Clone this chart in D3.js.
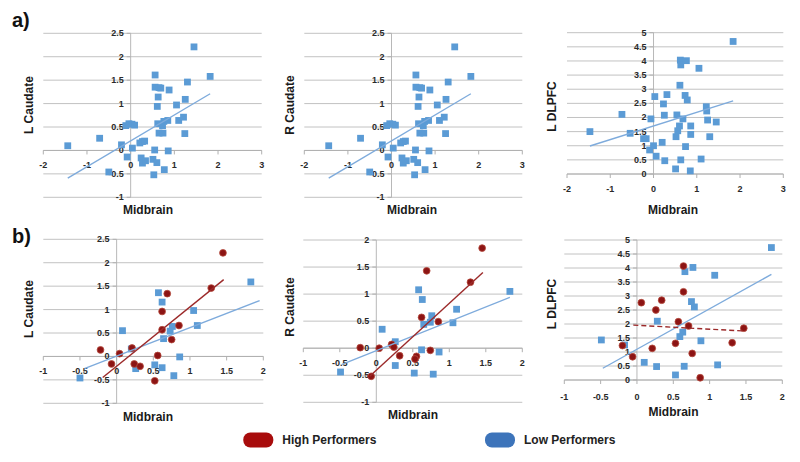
<!DOCTYPE html>
<html><head><meta charset="utf-8">
<script src="https://cdn.jsdelivr.net/npm/d3@7"></script>
<style>
body{margin:0;background:#fff;}
svg{display:block;font-family:"Liberation Sans",Arial,sans-serif;}
</style></head><body>
<svg id="c" width="800" height="462"></svg>
<script>
// ---------- DATA ----------
// Panel a (all subjects, low-performer colour)
const a1Points = [[-1.44,0.10],[-0.71,0.26],[-0.50,-0.46],[-0.21,0.12],[-0.08,-0.14],[-0.11,0.53],[-0.04,0.57],[0.03,0.56],[0.09,0.54],[0.04,0.05],[0.21,0.16],[0.27,0.19],[0.32,0.20],[0.24,-0.16],[0.27,-0.27],[0.34,-0.22],[0.51,-0.19],[0.55,0.01],[0.53,-0.52],[0.60,-0.26],[0.56,1.61],[0.56,1.35],[0.65,1.34],[0.69,1.33],[0.63,1.14],[0.61,0.94],[0.62,0.57],[0.65,0.37],[0.74,0.37],[0.73,0.53],[0.76,0.62],[0.85,0.64],[0.77,-0.41],[0.86,-0.01],[0.88,1.29],[1.05,0.97],[1.10,0.64],[1.21,0.71],[1.24,0.36],[1.25,1.09],[1.30,1.46],[1.45,2.21],[1.82,1.58]];
const a1Trend = [[-1.44,-0.59],[1.82,1.21]];
const a2Points = [[-1.44,0.10],[-0.71,0.26],[-0.50,-0.46],[-0.21,0.12],[-0.08,-0.14],[-0.11,0.53],[-0.04,0.57],[0.03,0.56],[0.09,0.54],[0.04,0.05],[0.21,0.16],[0.27,0.19],[0.32,0.20],[0.24,-0.16],[0.27,-0.27],[0.34,-0.22],[0.51,-0.19],[0.55,0.01],[0.53,-0.52],[0.60,-0.26],[0.56,1.61],[0.56,1.35],[0.65,1.34],[0.69,1.33],[0.63,1.14],[0.61,0.94],[0.62,0.57],[0.65,0.37],[0.74,0.37],[0.73,0.53],[0.76,0.62],[0.85,0.64],[0.77,-0.41],[0.86,-0.01],[0.88,1.29],[1.05,0.97],[1.10,0.64],[1.21,0.71],[1.24,0.36],[1.25,1.09],[1.30,1.46],[1.45,2.21],[1.82,1.58]];
const a2Trend = [[-1.44,-0.59],[1.82,1.21]];
const a3Points = [[-1.47,1.50],[-0.73,2.11],[-0.54,1.44],[-0.23,1.25],[-0.17,1.25],[-0.06,1.95],[-0.09,0.85],[0.00,1.00],[0.03,2.74],[0.06,0.63],[0.20,1.12],[0.23,2.48],[0.25,2.08],[0.26,0.47],[0.31,2.81],[0.51,0.18],[0.52,1.32],[0.54,2.09],[0.56,1.53],[0.60,1.70],[0.61,3.14],[0.62,4.03],[0.63,3.86],[0.63,0.50],[0.68,1.95],[0.73,2.78],[0.74,0.97],[0.76,4.01],[0.78,2.62],[0.85,0.11],[0.86,1.40],[0.86,1.70],[1.05,3.74],[1.10,0.53],[1.22,2.38],[1.23,2.23],[1.25,1.91],[1.30,1.32],[1.45,1.84],[1.84,4.69]];
const a3Trend = [[-1.47,0.99],[1.84,2.59]];
// Panel b (split by group)
const b1High = [[-0.22,0.14],[-0.07,-0.16],[0.04,0.06],[0.21,0.18],[0.24,-0.16],[0.32,-0.21],[0.56,0.02],[0.52,-0.52],[0.62,0.57],[0.62,0.96],[0.69,1.34],[0.75,0.36],[0.85,0.66],[1.29,1.46],[1.45,2.21]];
const b1Low = [[-0.50,-0.46],[0.08,0.55],[0.20,0.16],[0.26,-0.26],[0.52,-0.18],[0.62,-0.24],[0.57,1.36],[0.62,1.16],[0.64,0.38],[0.73,0.54],[0.76,0.64],[0.78,-0.41],[0.86,-0.01],[1.05,0.98],[1.10,0.66],[1.83,1.59]];
const b1HighTrend = [[-0.19,-0.45],[1.46,1.64]];
const b1LowTrend = [[-0.44,-0.26],[1.95,1.19]];
const b2High = [[-0.22,0.01],[-0.07,-0.52],[0.04,0.00],[0.21,0.07],[0.24,0.02],[0.32,-0.14],[0.55,-0.15],[0.53,-0.20],[0.62,0.57],[0.69,1.43],[0.74,-0.04],[0.85,0.49],[1.29,1.22],[1.45,1.85]];
const b2Low = [[-0.49,-0.44],[0.08,0.35],[0.26,0.12],[0.26,-0.32],[0.52,-0.46],[0.58,1.08],[0.63,0.90],[0.62,-0.03],[0.65,0.44],[0.74,0.48],[0.76,0.60],[0.78,-0.48],[0.86,-0.07],[1.05,0.47],[1.10,0.72],[1.83,1.05]];
const b2HighTrend = [[-0.09,-0.52],[1.46,1.40]];
const b2LowTrend = [[-0.47,-0.30],[1.83,0.94]];
const b3High = [[-0.20,1.23],[-0.06,0.83],[0.06,2.76],[0.26,2.50],[0.34,2.85],[0.21,1.13],[0.53,1.31],[0.57,2.08],[0.64,4.07],[0.64,3.15],[0.71,1.93],[0.76,0.95],[0.87,0.08],[1.31,1.33],[1.47,1.85]];
const b3Low = [[-0.49,1.43],[-0.17,1.25],[0.10,0.63],[0.27,0.48],[0.28,2.10],[0.53,0.18],[0.59,1.55],[0.63,1.71],[0.65,0.49],[0.66,3.87],[0.77,4.02],[0.75,2.80],[0.79,2.61],[0.88,1.40],[1.07,3.74],[1.11,0.54],[1.85,4.73]];
const b3HighTrend = [[-0.05,1.96],[1.47,1.75]];
const b3LowTrend = [[-0.47,0.42],[1.85,3.77]];

const xTicksA = [-2,-1,0,1,2,3];
const xTicksB = [-1,-0.5,0,0.5,1,1.5,2];
const yTicksCaudA = [-1,-0.5,0,0.5,1,1.5,2,2.5];
const yTicksCaudB2 = [-1,-0.5,0,0.5,1,1.5,2];
const yTicksDLPFC = [0,0.5,1,1.5,2,2.5,3,3.5,4,4.5,5];
const legendLabels = ["High Performers","Low Performers"];
const panelLetters = ["a)","b)"];

// ---------- STYLE ----------
const LOW = "#5b9bd5", HIGH = "#8c1414";
const LOW_LINE = "#7eabdc", HIGH_LINE = "#9c2a2a";
const svg = d3.select("#c");

function fmt(v){ return String(v); }

function panel(o){
  const x = d3.scaleLinear().domain(o.xd).range([o.l,o.r]);
  const y = d3.scaleLinear().domain(o.yd).range([o.b,o.t]);
  const g = svg.append("g");
  g.selectAll(".gl").data(o.yt).enter().append("line")
    .attr("x1",o.l).attr("x2",o.r)
    .attr("y1",d=>y(d)).attr("y2",d=>y(d))
    .attr("stroke","#c2c2c2").attr("stroke-width",1);
  g.append("line").attr("x1",x(0)).attr("x2",x(0)).attr("y1",o.t).attr("y2",o.b)
    .attr("stroke","#b8b8b8").attr("stroke-width",1);
  const y0 = y(Math.max(0,o.yd[0]));
  g.append("line").attr("x1",o.l).attr("x2",o.r).attr("y1",y0).attr("y2",y0)
    .attr("stroke","#b0b0b0").attr("stroke-width",1);
  g.selectAll(".xtk").data(o.xt).enter().append("line")
    .attr("x1",d=>x(d)).attr("x2",d=>x(d)).attr("y1",y0).attr("y2",y0+4)
    .attr("stroke","#b0b0b0");
  g.selectAll(".ytk").data(o.yt).enter().append("line")
    .attr("x1",x(0)-4).attr("x2",x(0)).attr("y1",d=>y(d)).attr("y2",d=>y(d))
    .attr("stroke","#b0b0b0");
  g.selectAll(".xl").data(o.xt).enter().append("text")
    .attr("x",d=>x(d)).attr("y",y0+o.xlo).attr("text-anchor","middle")
    .attr("dominant-baseline","central")
    .attr("font-size",9).attr("font-weight","bold").attr("fill","#2a2a2a")
    .text(fmt);
  g.selectAll(".yl").data(o.yt).enter().append("text")
    .attr("x",x(0)-7).attr("y",d=>y(d)).attr("text-anchor","end")
    .attr("dominant-baseline","central")
    .attr("font-size",9).attr("font-weight","bold").attr("fill","#2a2a2a")
    .text(fmt);
  g.append("text").attr("transform",`translate(${o.ytx},${o.yty}) rotate(-90)`)
    .attr("text-anchor","middle").attr("dominant-baseline","central")
    .attr("font-size",12).attr("font-weight","bold").attr("fill","#1a1a1a").text(o.ylabel);
  g.append("text").attr("x",o.xtx).attr("y",o.xty).attr("text-anchor","middle")
    .attr("dominant-baseline","central")
    .attr("font-size",12).attr("font-weight","bold").attr("fill","#1a1a1a").text("Midbrain");
  if(o.low){
    g.selectAll(".lp").data(o.low).enter().append("rect")
      .attr("x",d=>x(d[0])-3.4).attr("y",d=>y(d[1])-3.4)
      .attr("width",6.8).attr("height",6.8).attr("fill",LOW);
  }
  if(o.high){
    g.selectAll(".hp").data(o.high).enter().append("circle")
      .attr("cx",d=>x(d[0])).attr("cy",d=>y(d[1])).attr("r",3.4)
      .attr("fill",HIGH).attr("stroke","#b54a3c").attr("stroke-width",0.8);
  }
  const line = d3.line().x(d=>x(d[0])).y(d=>y(d[1]));
  if(o.lowTrend){
    g.append("path").attr("d",line(o.lowTrend)).attr("stroke",LOW_LINE)
      .attr("stroke-width",1.4).attr("fill","none");
  }
  if(o.highTrend){
    g.append("path").attr("d",line(o.highTrend)).attr("stroke",HIGH_LINE)
      .attr("stroke-width",1.4).attr("fill","none")
      .attr("stroke-dasharray",o.dash||null);
  }
}

panel({l:43.3,r:261.7,t:33.3,b:197.3,xd:[-2,3],yd:[-1,2.5],xt:xTicksA,yt:yTicksCaudA,xlo:15,
  ylabel:"L Caudate",ytx:29,yty:105,xtx:148,xty:210,low:a1Points,lowTrend:a1Trend});
panel({l:304.3,r:522.3,t:33.3,b:197.3,xd:[-2,3],yd:[-1,2.5],xt:xTicksA,yt:yTicksCaudA,xlo:15,
  ylabel:"R Caudate",ytx:290,yty:105,xtx:412,xty:210,low:a2Points,lowTrend:a2Trend});
panel({l:567,r:783.3,t:32.7,b:174,xd:[-2,3],yd:[0,5],xt:xTicksA,yt:yTicksDLPFC,xlo:15,
  ylabel:"L DLPFC",ytx:551.7,yty:106.5,xtx:673,xty:210,low:a3Points,lowTrend:a3Trend});
panel({l:43.3,r:263.3,t:239.3,b:403.3,xd:[-1,2],yd:[-1,2.5],xt:xTicksB,yt:yTicksCaudA,xlo:14.5,
  ylabel:"L Caudate",ytx:29,yty:309,xtx:148,xty:416.5,low:b1Low,high:b1High,lowTrend:b1LowTrend,highTrend:b1HighTrend});
panel({l:303.3,r:522.3,t:240,b:402.3,xd:[-1,2],yd:[-1,2],xt:xTicksB,yt:yTicksCaudB2,xlo:14.5,
  ylabel:"R Caudate",ytx:290,yty:307,xtx:413,xty:415,low:b2Low,high:b2High,lowTrend:b2LowTrend,highTrend:b2HighTrend});
panel({l:564.3,r:782.3,t:240,b:380,xd:[-1,2],yd:[0,5],xt:xTicksB,yt:yTicksDLPFC,xlo:17,
  ylabel:"L DLPFC",ytx:551.7,yty:304,xtx:673.5,xty:411.5,low:b3Low,high:b3High,lowTrend:b3LowTrend,highTrend:b3HighTrend,dash:"5,3"});

svg.append("text").attr("x",12).attr("y",27).attr("font-size",20).attr("font-weight","bold").attr("fill","#111").text(panelLetters[0]);
svg.append("text").attr("x",12).attr("y",243).attr("font-size",20).attr("font-weight","bold").attr("fill","#111").text(panelLetters[1]);

const legColors = ["#a80c0c","#3d74ba"];
const legX = [243.3,485];
const lg = svg.append("g");
lg.selectAll("rect").data(legendLabels).enter().append("rect")
  .attr("x",(d,i)=>legX[i]).attr("y",432.5).attr("width",30).attr("height",15)
  .attr("rx",7).attr("fill",(d,i)=>legColors[i]);
lg.selectAll("text").data(legendLabels).enter().append("text")
  .attr("x",(d,i)=>legX[i]+39).attr("y",440).attr("dominant-baseline","central")
  .attr("font-size",12).attr("font-weight","bold").attr("fill","#222").text(d=>d);
</script>
</body></html>
